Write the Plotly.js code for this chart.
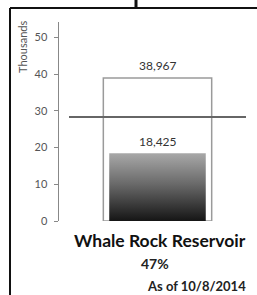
<!DOCTYPE html>
<html><head><meta charset="utf-8">
<script src="https://cdn.plot.ly/plotly-3.0.1.min.js"></script>
<style>html,body{margin:0;padding:0;background:#fff;}#c{width:257px;height:295px;}</style>
</head><body><div id="c"></div>
<script>
const categories = ["Whale Rock Reservoir"];
const capacity = [38967];
const storage = [18425];
const threshold = [28.3];
const percentLabel = ["47%"];
const dateLabel = ["As of 10/8/2014"];
const yTicks = [0, 10, 20, 30, 40, 50];

const toK = a => a.map(v => v / 1000);
const fmt = v => v.toLocaleString('en-US');
const F = 'Lato, "Open Sans", sans-serif';

const L = 59, T = 22, W = 197, H = 199;
const px = x => (x - L) / W;
const py = y => (T + H - y) / H;

const traces = [
  {type:'bar', x:categories, y:toK(capacity), width:0.55,
   marker:{color:'rgba(255,255,255,1)', line:{color:'#9a9a9a', width:1.5}},
   hoverinfo:'skip'},
  {type:'bar', x:categories, y:toK(storage), width:0.49,
   marker:{color:'#555', line:{width:0}}, hoverinfo:'skip'}
];

const ann = [
  {xref:'x', yref:'y', x:categories[0], y:toK(capacity)[0], text:fmt(capacity[0]),
   showarrow:false, yanchor:'middle', yshift:12, font:{family:F, size:12, color:'#333'}},
  {xref:'x', yref:'y', x:categories[0], y:toK(storage)[0], text:fmt(storage[0]),
   showarrow:false, yanchor:'middle', yshift:12, font:{family:F, size:12, color:'#333'}},
  {xref:'paper', yref:'paper', x:px(160), y:py(240), text:'<b>'+categories[0]+'</b>',
   showarrow:false, xanchor:'center', yanchor:'middle', font:{family:F, size:17.5, color:'#111'}},
  {xref:'paper', yref:'paper', x:px(155), y:py(263), text:'<b>'+percentLabel[0]+'</b>',
   showarrow:false, xanchor:'center', yanchor:'middle', font:{family:F, size:14, color:'#222'}},
  {xref:'paper', yref:'paper', x:px(248), y:py(286), text:'<b>'+dateLabel[0]+'</b>',
   showarrow:false, xanchor:'right', yanchor:'middle', font:{family:F, size:13, color:'#222'}},
  {xref:'paper', yref:'paper', x:px(22), y:py(47), text:'Thousands', textangle:-90,
   showarrow:false, xanchor:'center', yanchor:'middle', font:{family:F, size:11, color:'#555'}}
];

const shapes = [
  {type:'line', xref:'paper', yref:'y', x0:px(69), x1:px(246), y0:threshold[0], y1:threshold[0],
   line:{color:'#666', width:2}},
  {type:'line', xref:'paper', yref:'paper', x0:px(10), x1:px(10), y0:py(8), y1:py(300), line:{color:'#111', width:2}},
  {type:'line', xref:'paper', yref:'paper', x0:px(10), x1:px(260), y0:py(8), y1:py(8), line:{color:'#111', width:2}},
  {type:'line', xref:'paper', yref:'paper', x0:px(136), x1:px(136), y0:py(8), y1:py(-2), line:{color:'#111', width:3}}
];

const layout = {
  width:257, height:295,
  margin:{l:L, r:257-L-W, t:T, b:295-T-H, pad:0},
  paper_bgcolor:'#fff', plot_bgcolor:'#fff',
  barmode:'overlay', showlegend:false,
  xaxis:{visible:false, range:[-0.5,0.5]},
  yaxis:{range:[0,54.2], tickvals:yTicks, showgrid:false, zeroline:false,
         showline:true, linecolor:'#888', linewidth:1.5, ticks:'outside', ticklen:4, tickcolor:'#888',
         tickfont:{family:F, size:11, color:'#555'}, ticklabelstandoff:4},
  annotations:ann, shapes:shapes
};

Plotly.newPlot('c', traces, layout, {staticPlot:true, displayModeBar:false}).then(gd => {
  const svg = gd.querySelector('svg.main-svg');
  const NS = 'http://www.w3.org/2000/svg';
  let defs = svg.querySelector('defs');
  const g = document.createElementNS(NS, 'linearGradient');
  g.setAttribute('id', 'storGrad');
  g.setAttribute('x1', '0'); g.setAttribute('y1', '0'); g.setAttribute('x2', '0'); g.setAttribute('y2', '1');
  [['0','#a8a8a8'],['0.45','#6a6a6a'],['1','#151515']].forEach(([o,c]) => {
    const s = document.createElementNS(NS, 'stop');
    s.setAttribute('offset', o); s.setAttribute('stop-color', c);
    g.appendChild(s);
  });
  defs.appendChild(g);
  const tr = gd.querySelectorAll('.barlayer .trace');
  if (tr[1]) tr[1].querySelectorAll('path').forEach(p => { p.style.fill = 'url(#storGrad)'; });
});
</script></body></html>
